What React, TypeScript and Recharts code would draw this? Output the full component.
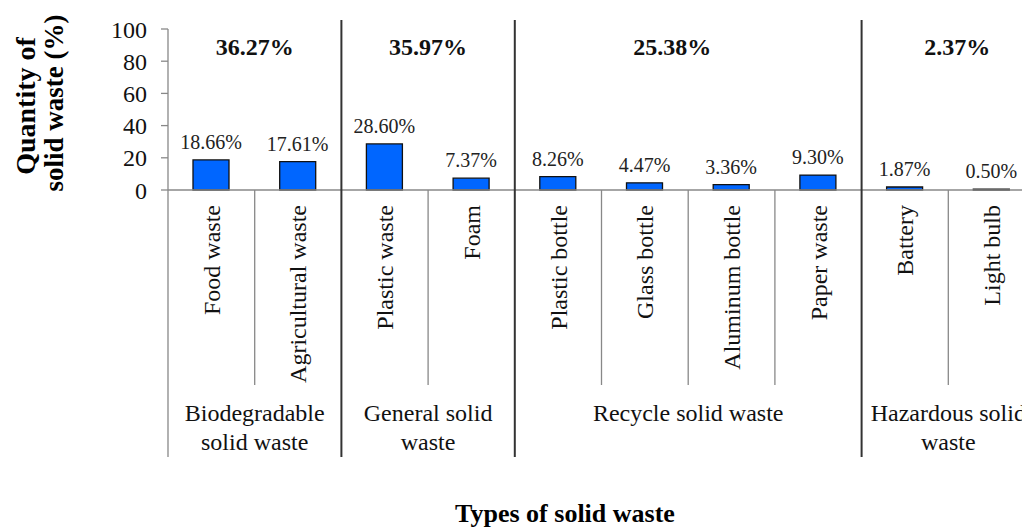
import React from 'react';
import { BarChart, Bar, XAxis, YAxis, LabelList, Customized } from 'recharts';

const categories = ['Food waste', 'Agricultural waste', 'Plastic waste', 'Foam', 'Plastic bottle', 'Glass bottle', 'Aluminum bottle', 'Paper waste', 'Battery', 'Light bulb'];
const values = [18.66, 17.61, 28.6, 7.37, 8.26, 4.47, 3.36, 9.3, 1.87, 0.5];
const groupNames = [['Biodegradable', 'solid waste'], ['General solid', 'waste'], ['Recycle solid waste'], ['Hazardous solid', 'waste']];
const groupTotals = ['36.27%', '35.97%', '25.38%', '2.37%'];
const groupSizes = [2, 2, 4, 2];
const yTicks = [0, 20, 40, 60, 80, 100];

const data = categories.map((name, i) => ({ name, value: values[i] }));

const FONT = "'Liberation Serif', 'Times New Roman', serif";
const W = 1040;
const H = 527;
const M_TOP = 29;
const M_LEFT = 108;
const M_RIGHT = 5;
const Y_W = 60;
const PLOT_H = 161;
const AXIS_Y = M_TOP + PLOT_H;
const PLOT_W = W - M_LEFT - M_RIGHT - Y_W;
const BAND = PLOT_W / categories.length;
// small horizontal nudges of the bold group totals (layout only)
const TOTAL_NUDGE = [0, 0, -16, 9];

const groupStart: number[] = [];
{
  let s = 0;
  groupSizes.forEach((g) => { groupStart.push(s); s += g; });
}

const CatTick = (props: any) => {
  const { x, index, payload } = props;
  const left = x - BAND / 2;
  const gi = groupStart.indexOf(index);
  const els: React.ReactNode[] = [];
  if (gi === -1) {
    els.push(<line key="sep" x1={left} x2={left} y1={AXIS_Y} y2={385} stroke="#888" strokeWidth={1.3} />);
  } else {
    const dark = index !== 0;
    els.push(
      <line key="gsep" x1={left} x2={left} y1={dark ? 20 : AXIS_Y} y2={457} stroke={dark ? '#333' : '#888'} strokeWidth={dark ? 2 : 1.3} />
    );
    const cx = left + (groupSizes[gi] * BAND) / 2;
    groupNames[gi].forEach((ln, k) => {
      els.push(
        <text key={'g' + k} x={cx} y={413 + k * 29} textAnchor="middle" dominantBaseline="central" fontFamily={FONT} fontSize={24} fill="#111">{ln}</text>
      );
    });
    els.push(
      <text key="tot" x={cx + TOTAL_NUDGE[gi]} y={47} textAnchor="middle" dominantBaseline="central" fontFamily={FONT} fontSize={24} fontWeight="bold" fill="#111">{groupTotals[gi]}</text>
    );
  }
  els.push(
    <text key="lbl" x={x} y={205} transform={`rotate(-90 ${x} 205)`} textAnchor="end" dy="0.35em" fontFamily={FONT} fontSize={24} fill="#111">{payload.value}</text>
  );
  return <g>{els}</g>;
};

const Titles = () => (
  <g>
    <text x={25} y={106} transform="rotate(-90 25 106)" textAnchor="middle" dominantBaseline="central" fontFamily={FONT} fontSize={28} fontWeight="bold" fill="#000">Quantity of</text>
    <text x={54} y={103} transform="rotate(-90 54 103)" textAnchor="middle" dominantBaseline="central" fontFamily={FONT} fontSize={27} fontWeight="bold" fill="#000">solid waste (%)</text>
    <text x={565} y={513} textAnchor="middle" dominantBaseline="central" fontFamily={FONT} fontSize={26} fontWeight="bold" fill="#000">Types of solid waste</text>
  </g>
);

export default function App() {
  return (
    <div style={{ position: 'fixed', left: 0, top: 0, width: 1022, height: 527, overflow: 'hidden', background: '#fff' }}>
      <BarChart width={W} height={H} data={data} margin={{ top: M_TOP, right: M_RIGHT, bottom: 0, left: M_LEFT }}>
        <XAxis
          dataKey="name"
          interval={0}
          height={H - AXIS_Y}
          tickLine={false}
          axisLine={{ stroke: '#888', strokeWidth: 1.3 }}
          tick={<CatTick />}
        />
        <YAxis
          width={Y_W}
          domain={[0, 100]}
          ticks={yTicks}
          interval={0}
          tickSize={7}
          tickMargin={14}
          axisLine={{ stroke: '#888', strokeWidth: 1.3 }}
          tickLine={{ stroke: '#888', strokeWidth: 1.3 }}
          tick={{ fontFamily: FONT, fontSize: 24, fill: '#111' }}
        />
        <Bar dataKey="value" barSize={36} fill="#0066ff" stroke="#111" strokeWidth={1.3} isAnimationActive={false}>
          <LabelList
            dataKey="value"
            position="top"
            offset={11}
            formatter={(v: any) => Number(v).toFixed(2) + '%'}
            style={{ fontFamily: FONT, fontSize: 20, fill: '#222' }}
          />
        </Bar>
        <Customized component={<Titles />} />
      </BarChart>
    </div>
  );
}
